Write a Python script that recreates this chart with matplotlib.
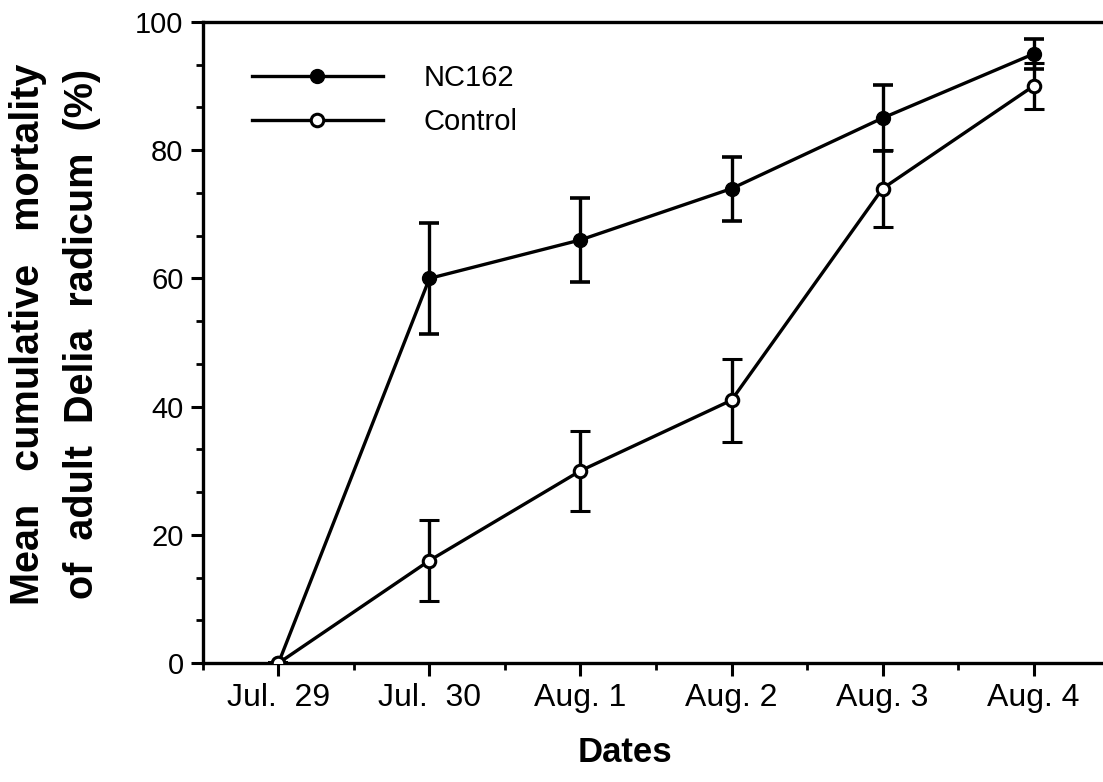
import matplotlib.pyplot as plt
from matplotlib.ticker import MultipleLocator
from matplotlib.lines import Line2D

# data
dates = ['Jul.  29', 'Jul.  30', 'Aug. 1', 'Aug. 2', 'Aug. 3', 'Aug. 4']
nc162 = [0, 60, 66, 74, 85, 95]
nc162_err = [0, 8.6, 6.5, 5.0, 5.2, 2.3]
control = [0, 16, 30, 41, 74, 90]
control_err = [0, 6.3, 6.2, 6.5, 6.0, 3.6]

fam = ['Liberation Sans Narrow', 'Liberation Sans', 'DejaVu Sans']
plt.rcParams['font.family'] = fam

fig = plt.figure(figsize=(11.03, 7.82), dpi=100)
ax = fig.add_axes([0.184, 0.152, 0.816, 0.820])

x = list(range(len(dates)))

ax.errorbar(x, nc162, yerr=nc162_err, color='black', lw=2.4, elinewidth=2.4,
            capsize=7, capthick=2.6, marker='o', ms=10, mfc='black', mec='black',
            zorder=3)
ax.errorbar(x, control, yerr=control_err, color='black', lw=2.4, elinewidth=2.4,
            capsize=7, capthick=2.6, marker='o', ms=9, mfc='white', mec='black',
            mew=2.2, zorder=4)

ax.set_xlim(-0.5, 5.46)
ax.set_ylim(0, 100)
ax.set_xticks(x)
ax.set_xticklabels(dates)
ax.xaxis.set_minor_locator(MultipleLocator(0.5))
ax.yaxis.set_major_locator(MultipleLocator(20))
ax.yaxis.set_minor_locator(MultipleLocator(20 / 3))

for s in ['left', 'bottom', 'top']:
    ax.spines[s].set_linewidth(2.4)
ax.spines['right'].set_visible(False)

ax.tick_params(axis='both', which='major', direction='out', length=9, width=2.2)
ax.tick_params(axis='both', which='minor', direction='out', length=5, width=2.0)
ax.tick_params(axis='y', which='major', labelsize=21, pad=5)
ax.tick_params(axis='x', which='major', labelsize=23, pad=5)

ax.set_xlabel('Dates', fontsize=25, fontweight='bold')
ax.xaxis.set_label_coords(0.469, -0.113)
ax.set_ylabel('Mean   cumulative   mortality\nof  adult  Delia  radicum  (%)',
              fontsize=28.5, fontweight='bold', linespacing=1.55)
ax.yaxis.set_label_coords(-0.113, 0.513)

# legend handles without the error bars
handles = [
    Line2D([], [], color='black', lw=2.4, marker='o', ms=10, mfc='black', mec='black'),
    Line2D([], [], color='black', lw=2.4, marker='o', ms=9, mfc='white', mec='black', mew=2.2),
]
ax.legend(handles, ['NC162', 'Control'], loc='upper left', bbox_to_anchor=(0.025, 0.975),
          frameon=False, fontsize=21, handlelength=4.5, handletextpad=1.4,
          labelspacing=0.55, numpoints=1)

fig.savefig('out.png', dpi=100)
